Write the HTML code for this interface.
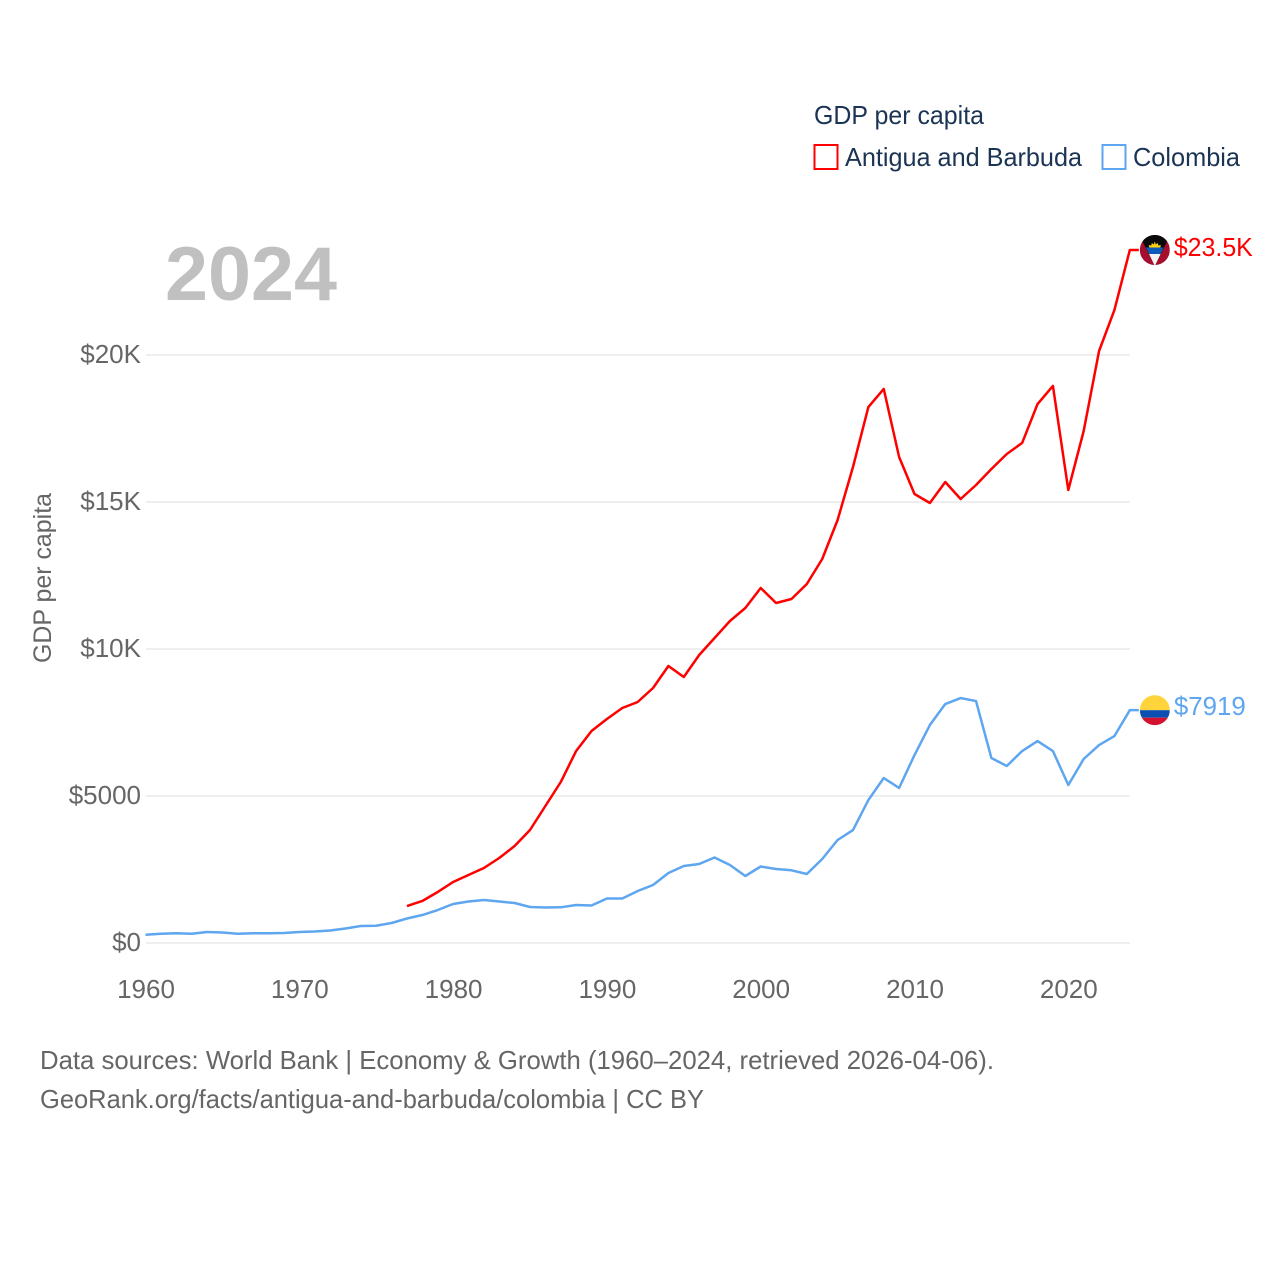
<!DOCTYPE html>
<html lang="en">
<head>
<meta charset="utf-8">
<title>GDP per capita: Antigua and Barbuda and Colombia</title>
<style>
html,body{margin:0;padding:0;background:#fff;}
svg{display:block;font-family:"Liberation Sans",sans-serif;}
</style>
</head>
<body>
<svg id="chart" width="1280" height="1280" viewBox="0 0 1280 1280" xmlns="http://www.w3.org/2000/svg">
  <defs>
    <clipPath id="flag-clip"><circle cx="0" cy="0" r="15"/></clipPath>
  </defs>
  <rect x="0" y="0" width="1280" height="1280" fill="#ffffff"/>

  <g>
    <text x="814" y="124" font-size="26" fill="#1b3454" textLength="170" lengthAdjust="spacingAndGlyphs">GDP per capita</text>
    <rect x="814.5" y="145" width="23" height="24" fill="#fff" stroke="#ff0000" stroke-width="2"/>
    <text x="845" y="166" font-size="26" fill="#1b3454" textLength="237" lengthAdjust="spacingAndGlyphs">Antigua and Barbuda</text>
    <rect x="1102.5" y="145" width="23" height="24" fill="#fff" stroke="#5ea6ef" stroke-width="2"/>
    <text x="1133" y="166" font-size="26" fill="#1b3454" textLength="107" lengthAdjust="spacingAndGlyphs">Colombia</text>
  </g>

  <text x="165" y="300" font-size="76" font-weight="700" fill="#c0c0c0" textLength="172" lengthAdjust="spacingAndGlyphs">2024</text>
  <text transform="translate(51 578) rotate(-90)" text-anchor="middle" font-size="25" fill="#666666" textLength="170" lengthAdjust="spacingAndGlyphs">GDP per capita</text>

  <g id="grid"></g>
  <g id="y-ticks"></g>
  <g id="x-ticks"></g>
  <g id="series"></g>

  <g id="flag-antigua">
    <g clip-path="url(#flag-clip)">
      <rect x="-15" y="-15" width="30" height="30" fill="#a50f2d"/>
      <polygon points="-16,-16 16,-16 12,-8 0,16 -12,-8" fill="#0a0a0a"/>
      <polygon points="-5.5,-2.5 -6,-5 -3.5,-4.5 -3,-7 -1,-5.5 0,-8.5 1,-5.5 3,-7 3.5,-4.5 6,-5 5.5,-2.5" fill="#fcd116"/>
      <polygon points="-8.9,-2.5 8.9,-2.5 5.8,4 -5.8,4" fill="#0b5cb8"/>
      <polygon points="-5.8,4 5.8,4 0,16" fill="#f4f4f4"/>
    </g>
  </g>
  <g id="flag-colombia">
    <g clip-path="url(#flag-clip)">
      <rect x="-15" y="-15" width="30" height="15" fill="#ffd43b"/>
      <rect x="-15" y="0" width="30" height="7.5" fill="#0b4fb3"/>
      <rect x="-15" y="7.5" width="30" height="7.5" fill="#d3122f"/>
    </g>
  </g>
  <text id="end-label-antigua" font-size="26" fill="#ff0000"></text>
  <text id="end-label-colombia" font-size="26" fill="#5ea6ef"></text>

  <g>
    <text x="40" y="1069" font-size="26" fill="#666666" textLength="954" lengthAdjust="spacingAndGlyphs">Data sources: World Bank | Economy &amp; Growth (1960–2024, retrieved 2026-04-06).</text>
    <text x="40" y="1108" font-size="26" fill="#666666" textLength="664" lengthAdjust="spacingAndGlyphs">GeoRank.org/facts/antigua-and-barbuda/colombia | CC BY</text>
  </g>
</svg>
<script>
const yTickValues = [0, 5000, 10000, 15000, 20000];
const yTickLabels = ["$0", "$5000", "$10K", "$15K", "$20K"];
const xTickYears = [1960, 1970, 1980, 1990, 2000, 2010, 2020];
const colombiaStartYear = 1960;
const antiguaStartYear = 1977;
const colombiaValues = [282,316,330,316,374,357,316,330,333,340,374,391,425,493,578,588,680,833,952,1122,1326,1411,1462,1411,1360,1224,1207,1214,1292,1275,1513,1513,1768,1973,2381,2619,2687,2908,2653,2279,2602,2517,2473,2347,2857,3503,3843,4863,5612,5272,6394,7414,8128,8332,8230,6292,6020,6530,6870,6530,5374,6258,6734,7040,7919];
const antiguaValues = [1258,1429,1735,2075,2313,2551,2891,3299,3844,4660,5476,6531,7211,7619,7993,8197,8673,9422,9048,9796,10374,10952,11395,12075,11565,11701,12211,13061,14388,16190,18231,18844,16531,15272,14966,15680,15102,15578,16122,16633,17010,18333,18946,15408,17415,20136,21531,23571];
const colombiaEndLabel = "$7919";
const antiguaEndLabel = "$23.5K";

const NS = "http://www.w3.org/2000/svg";
function xScale(year) { return 145.5 + (year - 1960) * (1068.3 - 145.5) / 60; }
function yScale(value) { return 943 - value * (943 - 355) / 20000; }
function make(tag, attrs, parent) {
  const el = document.createElementNS(NS, tag);
  for (const k in attrs) el.setAttribute(k, attrs[k]);
  parent.appendChild(el);
  return el;
}
const grid = document.getElementById("grid");
const yTicks = document.getElementById("y-ticks");
const xTicks = document.getElementById("x-ticks");
const seriesGroup = document.getElementById("series");

yTickValues.forEach(function (v, i) {
  const line = make("line", {x1: 146, x2: xScale(2024), y1: yScale(v), y2: yScale(v), stroke: "#eeeeee", "stroke-width": 2}, grid);
  
  
  const label = make("text", {x: 141, y: yScale(v) + 8, "text-anchor": "end", "font-size": 26, fill: "#666666"}, yTicks);
  label.textContent = yTickLabels[i];
  
  
});
xTickYears.forEach(function (year) {
  const label = make("text", {x: xScale(year) + 0.5, y: 998, "text-anchor": "middle", "font-size": 26, fill: "#666666"}, xTicks);
  label.textContent = String(year);
  
  
});
function drawSeries(values, startYear, color) {
  let pts = values.map(function (v, i) { return xScale(startYear + i).toFixed(2) + "," + yScale(v).toFixed(2); });
  const lastX = xScale(startYear + values.length - 1);
  const lastY = yScale(values[values.length - 1]);
  pts.push((lastX + 9).toFixed(2) + "," + lastY.toFixed(2));
  return make("polyline", {points: pts.join(" "), fill: "none", stroke: color, "stroke-width": 2.5, "stroke-linejoin": "round"}, seriesGroup);
}
const colombiaLine = drawSeries(colombiaValues, colombiaStartYear, "#5ea6ef");


const antiguaLine = drawSeries(antiguaValues, antiguaStartYear, "#ff0000");



function placeEnd(values, startYear, flagId, labelId, text, dy) {
  const lx = xScale(startYear + values.length - 1);
  const ly = yScale(values[values.length - 1]);
  document.getElementById(flagId).setAttribute("transform", "translate(" + (lx + 25) + " " + ly + ")");
  const t = document.getElementById(labelId);
  t.setAttribute("x", lx + 44);
  t.setAttribute("y", ly + dy);
  t.setAttribute("textLength", text.length === 6 ? 79 : 72);
  t.setAttribute("lengthAdjust", "spacingAndGlyphs");
  t.textContent = text;
}
placeEnd(antiguaValues, antiguaStartYear, "flag-antigua", "end-label-antigua", antiguaEndLabel, 6);
placeEnd(colombiaValues, colombiaStartYear, "flag-colombia", "end-label-colombia", colombiaEndLabel, 5);
</script>
</body>
</html>
